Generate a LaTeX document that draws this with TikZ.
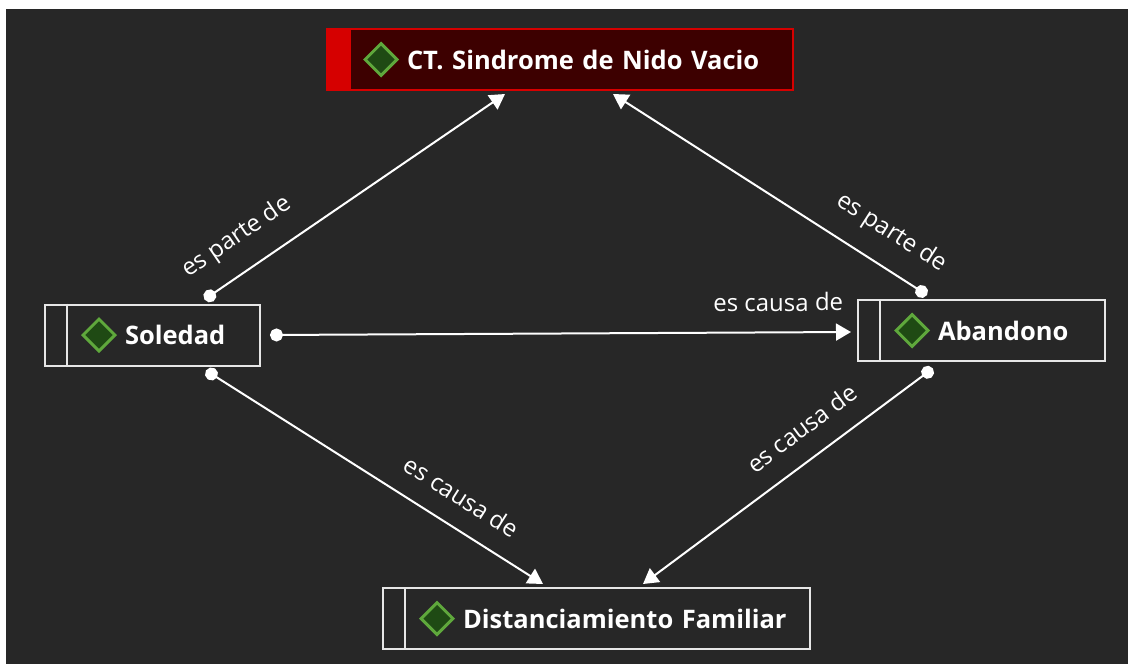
\documentclass[tikz,border=0pt]{standalone}
\usepackage{fontspec}
\setmainfont{Open Sans}
\usetikzlibrary{arrows.meta,shapes.geometric,calc}

\definecolor{bgdark}{HTML}{272727}
\definecolor{ctred}{HTML}{D60000}
\definecolor{ctdark}{HTML}{3D0000}
\definecolor{icongreen}{HTML}{1F4A14}
\definecolor{iconedge}{HTML}{5FA83C}
\definecolor{framegray}{HTML}{E6E6E6}

\tikzset{
  concept/.style={draw=framegray, line width=2pt, text=white, inner xsep=20pt, inner ysep=0pt,
    minimum height=61pt, align=left, font=\bfseries\fontsize{25.5}{30}\selectfont},
  icon/.style={diamond, draw=iconedge, fill=icongreen, line width=3pt, minimum size=33pt, inner sep=0pt},
  link/.style={{Circle[length=13pt]}-{Triangle[length=15pt,width=17pt]}},
  lbl/.style={sloped, above=20pt, inner sep=0pt, text=white, font=\fontsize{24}{28}\selectfont},
}

\begin{document}
\begin{tikzpicture}[x=1pt,y=-1pt]
\useasboundingbox (0,0) rectangle (1128,664);
\fill[white] (0,0) rectangle (1128,664);
\fill[bgdark] (6,9) rectangle (1128,664);

\begin{scope}[every node/.style={concept}]
  \node[text width=426pt, draw=ctred, fill=ctdark] (top) at (560,59.5) {\hspace*{60pt}CT. Sindrome de Nido Vacio};
  \node[text width=175pt] (sol) at (152.5,335) {\hspace*{60pt}Soledad};
  \node[text width=207pt] (aba) at (981.5,330.5) {\hspace*{60pt}Abandono};
  \node[text width=387pt] (dist) at (596.5,618.5) {\hspace*{60pt}Distanciamiento Familiar};
\end{scope}

% red band of the code node, bars of the others
\fill[ctred] (top.north west) rectangle ($(top.south west)+(25,0)$);
\foreach \n in {sol,aba,dist}
  \draw[framegray, line width=2pt] ($(\n.north west)+(23,0)$) -- ($(\n.south west)+(23,0)$);
\foreach \n in {top,sol,aba,dist}
  \node[icon] (\n-icon) at ($(\n.west)+(55,0)$) {};

\begin{scope}[every edge/.style={draw=white, line width=2pt}]
  \path[link] ($(sol.north)+(52,-4)$) edge node[lbl, pos=0.17] {es parte de} ($(top.south)+(-55,3)$);
  \path[link] ($(aba.north)+(-54.5,-4)$) edge node[lbl, pos=0.17] {es parte de} ($(top.south)+(53,3)$);
  \path[link] ($(sol.east)+(9,0)$) edge node[lbl, pos=0.875] {es causa de} ($(aba.west)+(-6,1.5)$);
  \path[link] ($(sol.south)+(53.5,4)$) edge node[lbl, pos=0.71] {es causa de} ($(dist.north)+(-53.5,-3)$);
  \path[link] ($(aba.south)+(-48.7,6.4)$) edge node[lbl, pos=0.39] {es causa de} ($(dist.north)+(46.5,-3)$);
\end{scope}
\end{tikzpicture}
\end{document}
